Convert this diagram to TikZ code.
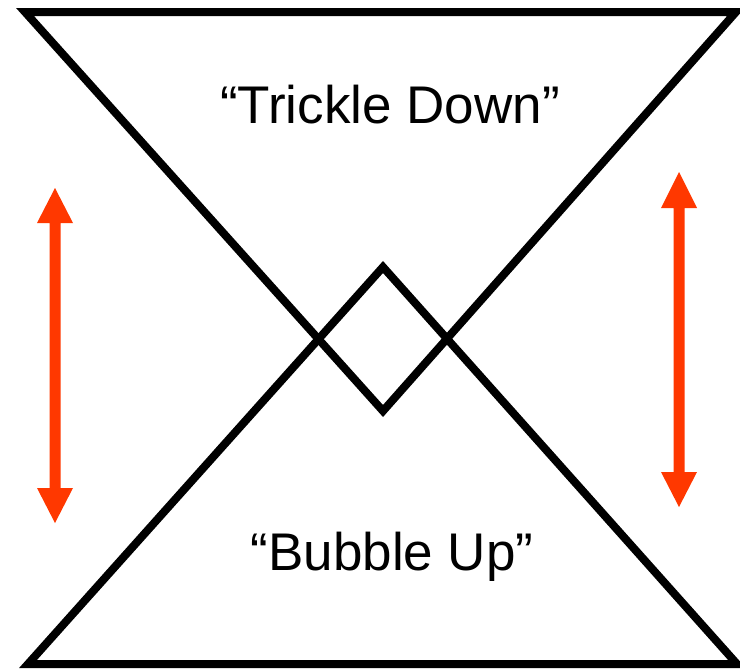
\documentclass[tikz,border=0pt]{standalone}
\usepackage{fontspec}
\setmainfont{Liberation Sans}
\definecolor{arrowred}{RGB}{255,56,0}
\begin{document}
\begin{tikzpicture}[x=1pt,y=-1pt,
  tri/.style={draw=black,line width=8pt,line join=miter},
  label/.style={anchor=base,inner sep=0pt,font=\fontsize{53}{60}\selectfont},
  dblarrow/.style={fill=arrowred,draw=none}]
\useasboundingbox (0,0) rectangle (740,670);
\begin{scope}
\clip (0,0) rectangle (740,670);
% top triangle
\draw[tri] (25,12) -- (736,12) -- (383,411) -- cycle;
% bottom triangle
\draw[tri] (28,664) -- (737,664) -- (383,267) -- cycle;
\end{scope}
% labels
\node[label] (td) at (390,123) {“Trickle Down”};
\node[label] (bu) at (392,570) {“Bubble Up”};
% left double arrow
\fill[dblarrow] (55,188) -- (73,223) -- (60.5,223) -- (60.5,488) -- (73,488)
  -- (55,523) -- (37,488) -- (49.5,488) -- (49.5,223) -- (37,223) -- cycle;
% right double arrow
\fill[dblarrow] (679,172) -- (697,208) -- (684.5,208) -- (684.5,472) -- (697,472)
  -- (679,507) -- (661,472) -- (673.5,472) -- (673.5,208) -- (661,208) -- cycle;
\end{tikzpicture}
\end{document}
